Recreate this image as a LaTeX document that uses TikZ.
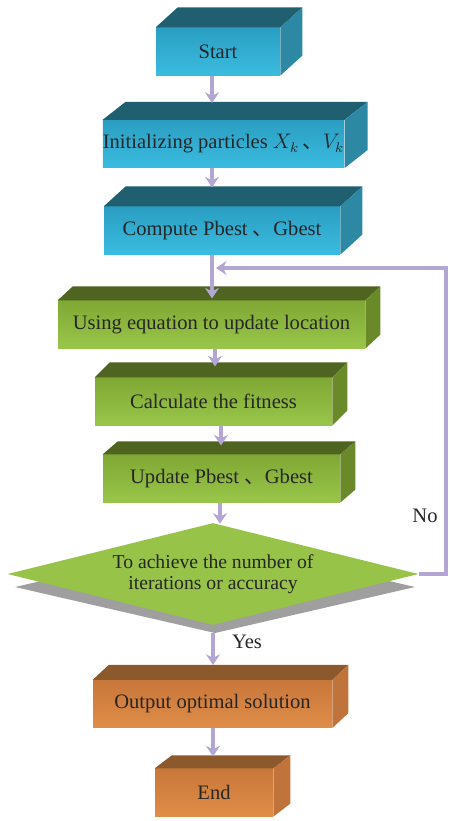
\documentclass[tikz,border=0pt]{standalone}
\usepackage{fontspec}
\setmainfont{Liberation Serif}
\newfontfamily\cjk{Noto Sans CJK SC}
\usepackage{tikz}
\usetikzlibrary{shapes.geometric,arrows.meta,calc,positioning}

\definecolor{bluehi}{HTML}{2A9EC2}
\definecolor{bluelo}{HTML}{3ABCE0}
\definecolor{bluetop}{HTML}{1F5F70}
\definecolor{blueside}{HTML}{2C88A3}
\definecolor{greenhi}{HTML}{7FA834}
\definecolor{greenlo}{HTML}{99C64A}
\definecolor{greentop}{HTML}{4E6420}
\definecolor{greenside}{HTML}{6A8A2A}
\definecolor{orangehi}{HTML}{C8773A}
\definecolor{orangelo}{HTML}{E08D48}
\definecolor{orangetop}{HTML}{8C592C}
\definecolor{orangeside}{HTML}{C0733A}
\definecolor{flowc}{HTML}{B3A5D4}

\begin{document}
\begin{tikzpicture}[x=0.02cm, y=-0.02cm,
    cubebox/.style={inner sep=0pt, minimum height=0.95cm, font=\fontsize{11.7}{14}\selectfont, text=black!85},
    bluebox/.style={cubebox, top color=bluehi, bottom color=bluelo},
    greenbox/.style={cubebox, top color=greenhi, bottom color=greenlo},
    orangebox/.style={cubebox, top color=orangehi, bottom color=orangelo},
    lbl/.style={font=\fontsize{11.7}{14}\selectfont, text=black!85},
    flow/.style={draw=flowc, line width=2pt, -{Stealth[width=8pt,length=6pt,inset=2pt]}},
]
    \useasboundingbox (0,0) rectangle (451,821);

    % front faces
    \node[bluebox, minimum width=2.48cm] (start) at (218,51.5) {Start};
    \node[bluebox, minimum width=4.74cm] (init) at (223.5,144) {Initializing particles $X_k$\,{\cjk 、}$V_k$};
    \node[bluebox, minimum width=4.72cm] (comp) at (222,230.5) {Compute Pbest {\cjk 、}Gbest};
    \node[greenbox, minimum width=6.14cm] (move) at (211.5,324.5) {Using equation to update location};
    \node[greenbox, minimum width=4.74cm] (fit) at (213.5,401.5) {Calculate the fitness};
    \node[greenbox, minimum width=4.74cm] (best) at (221.5,478.5) {Update Pbest {\cjk 、}Gbest};

    % decision with its shadow
    \fill[gray!75] (15,587) -- (215,541) -- (415,587) -- (215,633) -- cycle;
    \node[diamond, aspect=4.1, minimum width=8.22cm, minimum height=2.04cm, inner sep=0pt,
          fill=greenlo!90!greenhi, align=center, font=\fontsize{11.2}{12}\selectfont, text=black!85]
          (check) at (213,574) {To achieve the number of\\iterations or accuracy};

    \node[orangebox, minimum width=4.78cm] (output) at (212.5,704) {Output optimal solution};
    \node[orangebox, minimum width=2.36cm] (end) at (214,792.5) {End};

    % top and side faces
    \foreach \n/\dx/\dy/\tc/\sc in {start/22/20/bluetop/blueside, init/23/18/bluetop/blueside,
        comp/22/20/bluetop/blueside, move/15/14/greentop/greenside, fit/15/15/greentop/greenside,
        best/15/13/greentop/greenside, output/16/15/orangetop/orangeside, end/17/13/orangetop/orangeside} {
        \fill[\tc] (\n.north west) -- ++(\dx,-\dy) -- ($(\n.north east)+(\dx,-\dy)$) -- (\n.north east) -- cycle;
        \fill[\sc] (\n.north east) -- ++(\dx,-\dy) -- ($(\n.south east)+(\dx,-\dy)$) -- (\n.south east) -- cycle;
    }

    % labels
    \node[lbl] (no) at (425,516) {No};
    \node[lbl] (yes) at (247,642) {Yes};

    % connectors
    \coordinate (join) at (212,268);
    \draw[flow] (start.south -| 212,0) -- ($(init.north -| 212,0)+(0,-17)$);
    \draw[flow] (init.south -| 212,0) -- ($(comp.north -| 212,0)+(0,-19)$);
    \draw[flow] (comp.south -| 212,0) -- ($(move.north -| 212,0)+(0,-2)$);
    \draw[flow] (move.south -| 215,0) -- ($(fit.north -| 215,0)+(0,-11)$);
    \draw[flow] (fit.south -| 221,0) -- ($(best.north -| 221,0)+(0,-9)$);
    \draw[flow] (best.south -| 220,0) -- ($(check.north)+(7,1)$);
    \draw[flow] ($(check.south)+(0,8)$) -- ($(output.north -| 213,0)+(0,-15)$);
    \draw[flow] (output.south -| 213,0) -- ($(end.north -| 213,0)+(0,-12)$);
    \draw[flow] (check.east) -- (446,574) |- ($(join)+(4,0)$);
\end{tikzpicture}
\end{document}
